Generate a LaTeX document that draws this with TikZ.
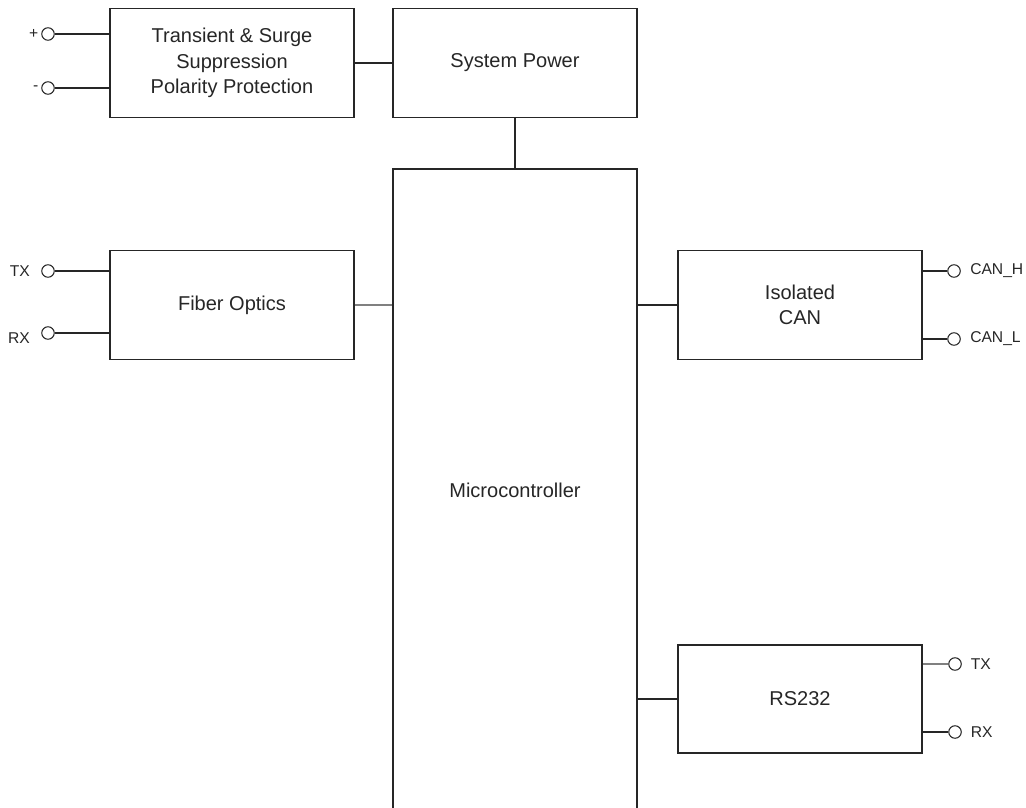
\documentclass[tikz,border=0pt]{standalone}
\usepackage{fontspec}
\setmainfont{Liberation Sans}
\begin{document}
\begin{tikzpicture}[x=0.02cm,y=-0.02cm,line width=0.7pt,draw=black!85,
	block/.style={draw,rectangle,minimum width=4.88cm,minimum height=2.18cm,inner sep=0pt,align=center,text=black!85,font=\fontsize{11.4}{14.4}\selectfont},
	term/.style={draw,circle,minimum size=0.25cm,inner sep=0pt,line width=0.6pt},
	pin/.style={font=\fontsize{8.9}{10}\selectfont,text=black!85,xshift=#1},
	pin/.default=0cm]
	\useasboundingbox (0,0) rectangle (1026,807);
	\clip (0,0) rectangle (1026,807);
	% blocks
	\node[block] (tsp) at (232,63) {Transient \& Surge\\Suppression\\Polarity Protection};
	\node[block] (pwr) at (515,63) {System Power};
	\node[block,minimum height=12.84cm] (mcu) at (515,490) {Microcontroller};
	\node[block] (fib) at (232,305) {Fiber Optics};
	\node[block] (can) at (800,305) {Isolated\\CAN};
	\node[block,minimum height=2.16cm] (rs) at (800,699) {RS232};
	% terminals
	\node[term,label={[pin=0.07cm]left:+}] (vp) at (48,34) {};
	\node[term,label={[pin=0.07cm]left:-}] (vm) at (48,88) {};
	\node[term,label={[pin=-0.1cm]left:TX}] (ftx) at (48,271) {};
	\node[term,label={[pin=-0.1cm,yshift=-0.11cm]left:RX}] (frx) at (48,333) {};
	\node[term,label={[pin=0.06cm]right:CAN\_H}] (ch) at (954,271) {};
	\node[term,label={[pin=0.06cm]right:CAN\_L}] (cl) at (954,339) {};
	\node[term,label={[pin=0.05cm]right:TX}] (rtx) at (955,664) {};
	\node[term,label={[pin=0.05cm]right:RX}] (rrx) at (955,732) {};
	% wires
	\draw (vp) -- (vp -| tsp.west);
	\draw (vm) -- (vm -| tsp.west);
	\draw (tsp.east) -- (pwr.west);
	\draw (pwr.south) -- (mcu.north);
	\draw (ftx) -- (ftx -| fib.west);
	\draw (frx) -- (frx -| fib.west);
	\draw[black!50] (fib.east) -- (fib.east -| mcu.west);
	\draw (can.west -| mcu.east) -- (can.west);
	\draw (rs.west -| mcu.east) -- (rs.west);
	\draw (ch) -- (ch -| can.east);
	\draw (cl) -- (cl -| can.east);
	\draw[black!50] (rtx) -- (rtx -| rs.east);
	\draw (rrx) -- (rrx -| rs.east);
\end{tikzpicture}
\end{document}
